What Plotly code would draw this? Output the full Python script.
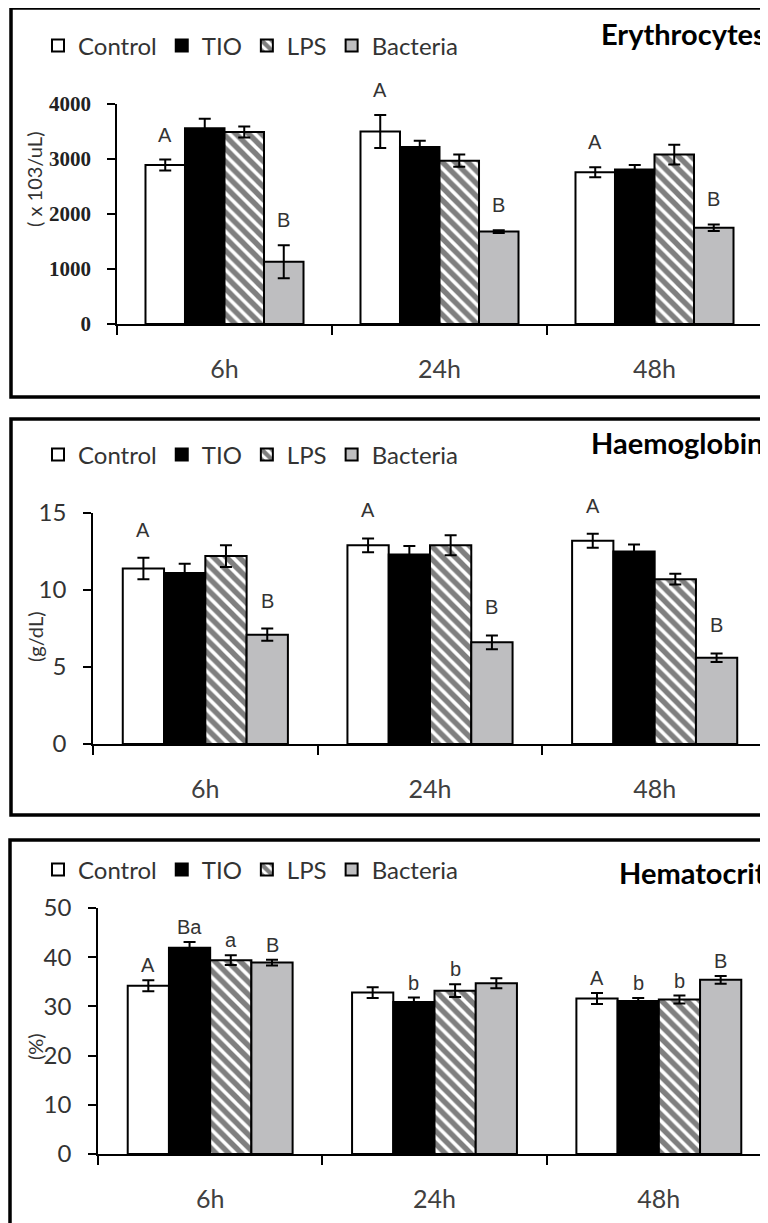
import plotly.graph_objects as go

# ---------------- data ----------------
categories = ["6h", "24h", "48h"]
series_names = ["Control", "TIO", "LPS", "Bacteria"]

# Erythrocytes (x10^3/uL)
ery_values = {
    "Control": [2890, 3500, 2760],
    "TIO": [3560, 3220, 2810],
    "LPS": [3490, 2970, 3080],
    "Bacteria": [1130, 1680, 1750],
}
ery_errors = {
    "Control": [100, 300, 90],
    "TIO": [170, 110, 80],
    "LPS": [100, 110, 180],
    "Bacteria": [300, 25, 60],
}
ery_letters = {
    "Control": ["A", "A", "A"],
    "TIO": ["", "", ""],
    "LPS": ["", "", ""],
    "Bacteria": ["B", "B", "B"],
}

# Haemoglobin (g/dL)
hb_values = {
    "Control": [11.4, 12.9, 13.2],
    "TIO": [11.1, 12.3, 12.5],
    "LPS": [12.2, 12.9, 10.7],
    "Bacteria": [7.1, 6.6, 5.6],
}
hb_errors = {
    "Control": [0.7, 0.45, 0.45],
    "TIO": [0.6, 0.55, 0.45],
    "LPS": [0.7, 0.65, 0.35],
    "Bacteria": [0.4, 0.45, 0.28],
}
hb_letters = {
    "Control": ["A", "A", "A"],
    "TIO": ["", "", ""],
    "LPS": ["", "", ""],
    "Bacteria": ["B", "B", "B"],
}

# Hematocrit (%)
ht_values = {
    "Control": [34.2, 32.8, 31.6],
    "TIO": [41.9, 30.9, 31.1],
    "LPS": [39.4, 33.2, 31.4],
    "Bacteria": [38.9, 34.7, 35.4],
}
ht_errors = {
    "Control": [1.1, 1.1, 1.1],
    "TIO": [1.2, 0.9, 0.6],
    "LPS": [1.0, 1.3, 0.8],
    "Bacteria": [0.6, 1.0, 0.8],
}
ht_letters = {
    "Control": ["A", "", "A"],
    "TIO": ["Ba", "b", "b"],
    "LPS": ["a", "b", "b"],
    "Bacteria": ["B", "", "B"],
}

y_ticks = {
    "ery": [0, 1000, 2000, 3000, 4000],
    "hb": [0, 5, 10, 15],
    "ht": [0, 10, 20, 30, 40, 50],
}

titles = ["Erythrocytes", "Haemoglobin", "Hematocrit"]
y_titles = ["( x 103/uL)", "(g/dL)", "(%)"]

# ---------------- layout helpers ----------------
W, H = 768, 1223
OFF = 8  # the page body margin shifts the figure by 8px


def fx(p):
    return (p - OFF) / W


def fy(p):
    return 1 - (p - OFF) / H


SANS = "Lato"
BARGAP = 0.265

styles = {
    "Control": dict(color="white", pattern=None),
    "TIO": dict(color="black", pattern=None),
    "LPS": dict(color="white", pattern=dict(shape="\\", fgcolor="black", bgcolor="white",
                                            size=9, solidity=0.6)),
    "Bacteria": dict(color="#BEBEC0", pattern=None),
}

panels = [
    dict(values=ery_values, errors=ery_errors, letters=ery_letters, ticks=y_ticks["ery"],
         xpx=(117, 762), ypx=(104, 324), box=(11, 8, 820, 397),
         legend_y=46, title_y=33, title_x=768, ytitle=(34, 180), letter_shift=25,
         tickfont=dict(family="Liberation Serif", size=21, color="#222222"), tickbold=True),
    dict(values=hb_values, errors=hb_errors, letters=hb_letters, ticks=y_ticks["hb"],
         xpx=(93, 767), ypx=(513, 744), box=(11, 419, 820, 815),
         legend_y=455, title_y=443, title_x=765, ytitle=(35, 637), letter_shift=28,
         tickfont=dict(family=SANS, size=24, color="#333333"), tickbold=False),
    dict(values=ht_values, errors=ht_errors, letters=ht_letters, ticks=y_ticks["ht"],
         xpx=(98, 771), ypx=(908, 1154), box=(10, 840, 820, 1260),
         legend_y=870, title_y=872, title_x=768, ytitle=(35, 1047), letter_shift=15,
         tickfont=dict(family=SANS, size=24, color="#333333"), tickbold=False),
]

fig = go.Figure()
annotations = []
shapes = []
layout = {}

for k, p in enumerate(panels):
    idx = "" if k == 0 else str(k + 1)
    xa, ya = "x" + idx, "y" + idx
    lg = "legend" + idx
    for i, name in enumerate(series_names):
        st = styles[name]
        marker = dict(color=st["color"], line=dict(color="black", width=2))
        if st["pattern"] is not None:
            marker["pattern"] = st["pattern"]
        fig.add_trace(go.Bar(
            x=categories, y=p["values"][name], name=name, marker=marker,
            error_y=dict(type="data", array=p["errors"][name], color="black",
                         thickness=2, width=6),
            xaxis=xa, yaxis=ya, legend=lg, showlegend=True,
        ))
        # significance letters
        bw = (1 - BARGAP) / len(series_names)
        for j, cat in enumerate(categories):
            txt = p["letters"][name][j]
            if not txt:
                continue
            annotations.append(dict(
                x=j + (i - 1.5) * bw, y=p["values"][name][j] + p["errors"][name][j],
                xref=xa, yref=ya, text=txt, showarrow=False, yanchor="middle",
                yshift=p["letter_shift"],
                font=dict(family="Liberation Sans", size=20, color="#333333"),
            ))
    tick_text = [("<b>%d</b>" % t) if p["tickbold"] else str(t) for t in p["ticks"]]
    layout["xaxis" + idx] = dict(
        domain=[fx(p["xpx"][0]), fx(p["xpx"][1])], anchor=ya, type="category",
        range=[-0.5, 2.5], tickson="boundaries", ticks="outside", ticklen=9,
        tickwidth=1.5, tickcolor="black", showline=True, linecolor="black", linewidth=1.5,
        showgrid=False, zeroline=False, ticklabelstandoff=22, automargin=False,
        tickfont=dict(family=SANS, size=25, color="#404040"), fixedrange=True,
    )
    layout["yaxis" + idx] = dict(
        domain=[fy(p["ypx"][1]), fy(p["ypx"][0])], anchor=xa,
        range=[0, p["ticks"][-1]], tickvals=p["ticks"], ticktext=tick_text,
        ticks="outside", ticklen=8, tickwidth=1.5, tickcolor="black",
        showline=True, linecolor="black", linewidth=1.5, showgrid=False, zeroline=False,
        ticklabelstandoff=12, tickfont=p["tickfont"], fixedrange=True, automargin=False,
    )
    layout[lg] = dict(
        orientation="h", x=fx(38), xanchor="left", y=fy(p["legend_y"]), yanchor="middle",
        font=dict(family=SANS, size=24, color="#333333"), bgcolor="rgba(0,0,0,0)",
        itemwidth=30, tracegroupgap=0,
    )
    annotations.append(dict(
        x=fx(p["title_x"]), y=fy(p["title_y"]), xref="paper", yref="paper",
        text="<b>%s</b>" % titles[k], showarrow=False, xanchor="right", yanchor="middle",
        font=dict(family=SANS, size=29, color="black"),
    ))
    annotations.append(dict(
        x=fx(p["ytitle"][0]), y=fy(p["ytitle"][1]), xref="paper", yref="paper",
        text=y_titles[k], showarrow=False, textangle=-90, xanchor="center", yanchor="middle",
        font=dict(family=SANS, size=20, color="#333333"),
    ))
    bx = p["box"]
    shapes.append(dict(type="rect", xref="paper", yref="paper",
                       x0=fx(bx[0]), x1=fx(bx[2]), y0=fy(bx[3]), y1=fy(bx[1]),
                       line=dict(color="black", width=3.5), fillcolor="rgba(0,0,0,0)",
                       layer="above"))

fig.update_layout(
    width=W, height=H, margin=dict(l=0, r=0, t=0, b=0, autoexpand=False),
    paper_bgcolor="white", plot_bgcolor="white",
    barmode="group", bargap=BARGAP, bargroupgap=0,
    annotations=annotations, shapes=shapes, **layout,
)

fig.write_html("out.html")
